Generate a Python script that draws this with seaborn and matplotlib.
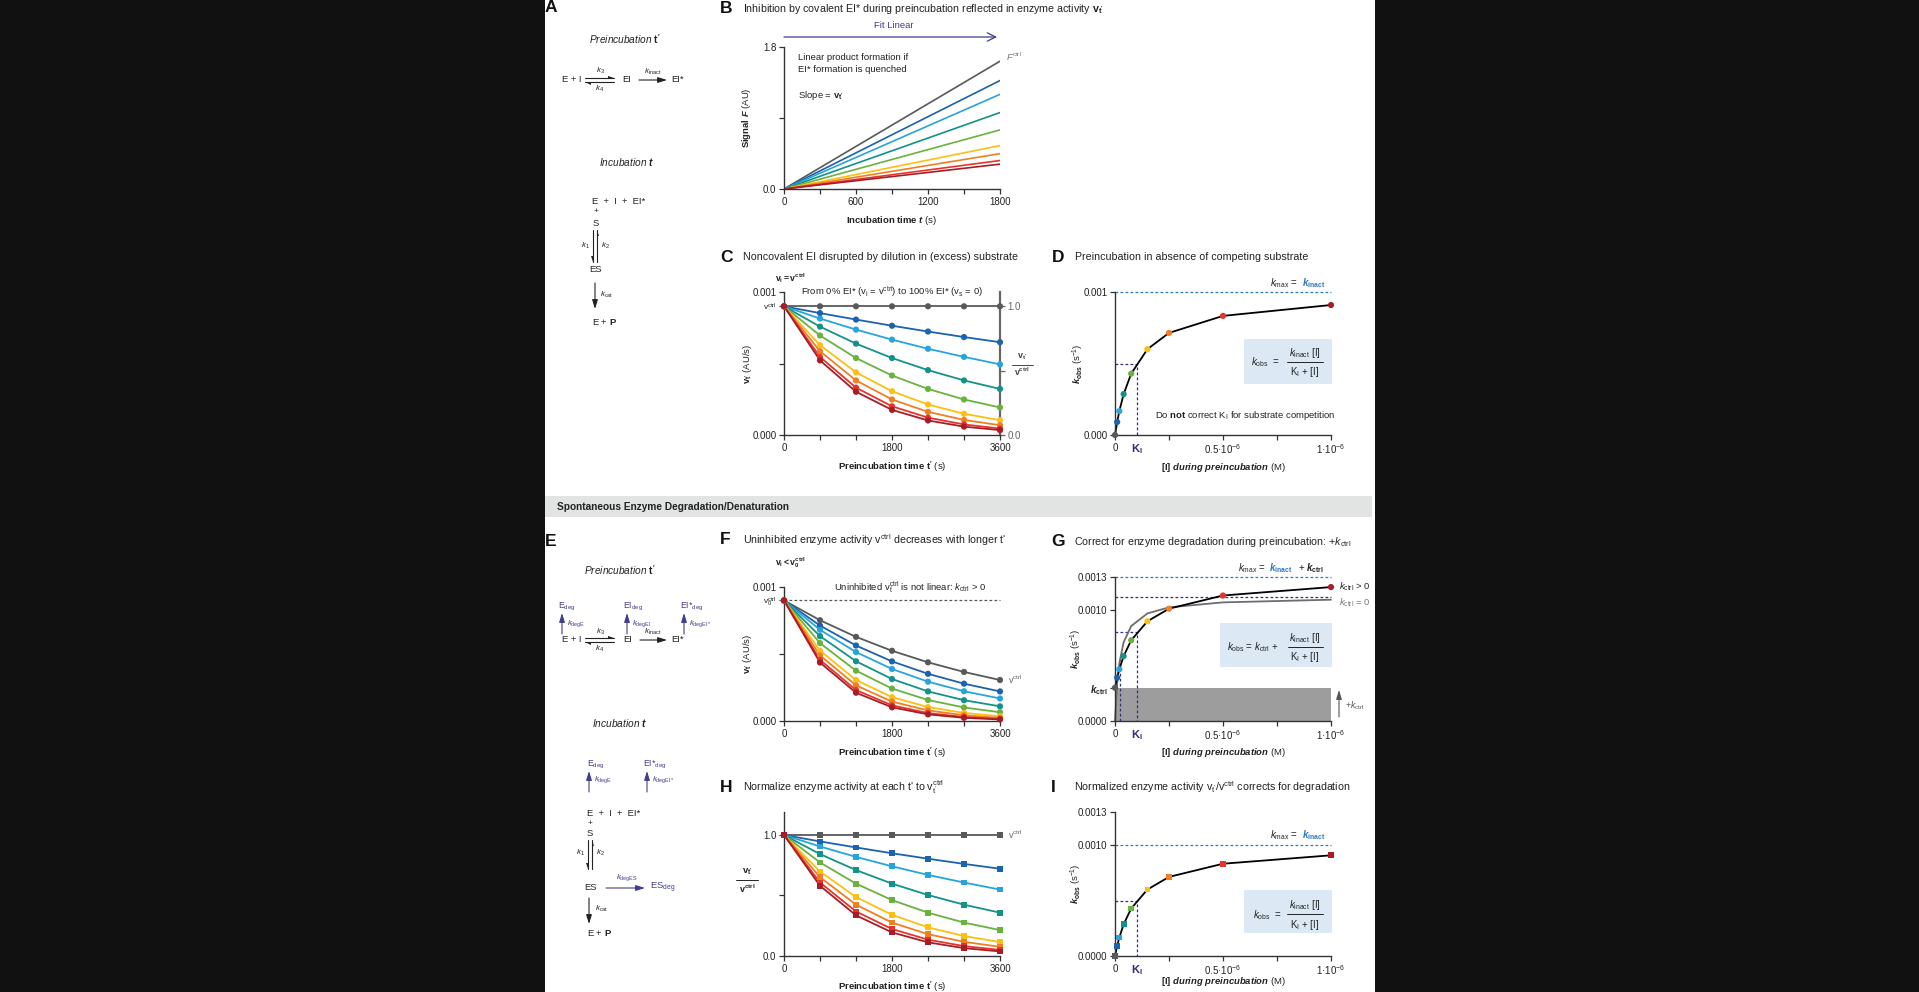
import numpy as np
import pandas as pd
import seaborn as sns
import matplotlib.pyplot as plt
from matplotlib.patches import Rectangle, Polygon
from matplotlib.ticker import FixedLocator

# inhibitor series: [I] during preincubation and colour of each series
series = ['0', '0.01', '0.02', '0.04', '0.075', '0.15', '0.25', '0.5', '1']
conc_M = [0, 0.01e-6, 0.02e-6, 0.04e-6, 0.075e-6, 0.15e-6, 0.25e-6, 0.5e-6, 1.0e-6]
colors = ['#58595b', '#1c62ae', '#27a4de', '#129289', '#6ab23f',
          '#fcc012', '#f07f24', '#e5352b', '#a81c27']

# preincubation time points (s)
t_pre = [0, 600, 1200, 1800, 2400, 3000, 3600]

# normalised activity v_t'/v_ctrl (panels C and H), one row per series
norm_act = [
    [1, 1, 1, 1, 1, 1, 1],
    [1, 0.947, 0.897, 0.849, 0.804, 0.761, 0.721],
    [1, 0.905, 0.819, 0.741, 0.670, 0.607, 0.549],
    [1, 0.842, 0.710, 0.598, 0.504, 0.424, 0.358],
    [1, 0.773, 0.598, 0.462, 0.358, 0.276, 0.214],
    [1, 0.698, 0.487, 0.340, 0.237, 0.165, 0.115],
    [1, 0.651, 0.424, 0.276, 0.180, 0.117, 0.076],
    [1, 0.607, 0.368, 0.223, 0.135, 0.082, 0.050],
    [1, 0.580, 0.336, 0.195, 0.113, 0.065, 0.038],
]
v_ctrl = 0.0009
# uninhibited activity with spontaneous degradation (panel F, grey)
v_ctrl_deg = [0.0009, 0.000752, 0.000628, 0.000524, 0.000438, 0.000366, 0.000306]

# panel B: product signal after 1800 s incubation
t_inc = [0, 1800]
signal_end = [1.62, 1.375, 1.200, 0.969, 0.749, 0.550, 0.448, 0.361, 0.315]

# k_obs values (panels D, G, I)
k_obs = [0, 0.0000909, 0.000167, 0.000286, 0.000429, 0.000600, 0.000714, 0.000833, 0.000909]
k_obs_deg = [0.0003, 0.000391, 0.000467, 0.000586, 0.000729, 0.000900, 0.001014, 0.001133, 0.001209]
k_obs_nocorr = [0, 0.000339, 0.000521, 0.000711, 0.000857, 0.000971, 0.001026, 0.001071, 0.001095]
k_inact = 0.001
k_ctrl = 0.0003
K_I = 0.1e-6
k_max_deg = 0.0013
k_max_nocorr = 0.00112
K_nocorr = 0.023e-6

sns.set_theme(style='ticks')
plt.rcParams['font.family'] = ['Liberation Sans', 'DejaVu Sans']
plt.rcParams.update({
    'mathtext.fontset': 'custom',
    'mathtext.rm': 'Liberation Sans',
    'mathtext.it': 'Liberation Sans:italic',
    'mathtext.bf': 'Liberation Sans:bold',
    'mathtext.bfit': 'Liberation Sans:italic:bold',
    'text.color': '#222222',
})

INK = '#222222'
GREY = '#58595b'
PURPLE = '#413d8f'
NAVY = '#2f2f80'
BLUE = '#2a78c0'
BOX = '#dce9f5'

W, H = 1919, 992
fig = plt.figure(figsize=(W / 100, H / 100), dpi=100, facecolor='#111111')
fig.add_artist(Rectangle((545 / W, 0), 830 / W, 1, transform=fig.transFigure,
                         facecolor='white', edgecolor='none', zorder=-5))

pal = dict(zip(series, colors))

rows = []
for s, ratios in zip(series, norm_act):
    for t, r, vd in zip(t_pre, ratios, v_ctrl_deg):
        rows.append(dict(series=s, t=t, ratio=r, vC=v_ctrl * r, vF=vd * r))
df_t = pd.DataFrame(rows)

df_b = pd.DataFrame([dict(series=s, t=t, F=f * t / t_inc[-1])
                     for s, f in zip(series, signal_end) for t in t_inc])

df_k = pd.DataFrame(dict(series=series, conc=conc_M, k=k_obs,
                         k_deg=k_obs_deg, k_nc=k_obs_nocorr))


def panel(x0, y0, x1, y1):
    ax = fig.add_axes([x0 / W, 1 - y1 / H, (x1 - x0) / W, (y1 - y0) / H], zorder=2)
    ax.patch.set_alpha(0)
    sns.despine(ax=ax)
    for sp in ['left', 'bottom']:
        ax.spines[sp].set_linewidth(1.0)
        ax.spines[sp].set_color('#333333')
    ax.tick_params(which='both', direction='out', length=3.5, width=0.9,
                   color='#333333', labelsize=7, labelcolor=INK, pad=2)
    return ax


def labels(ax, xl, yl, xy=-0.2, yx=-0.17):
    ax.set_xlabel(xl, fontsize=6.8, color=INK)
    ax.set_ylabel(yl, fontsize=6.8, color=INK)
    ax.xaxis.label.set_va('center')
    ax.yaxis.label.set_va('center')
    ax.xaxis.set_label_coords(0.5, xy)
    ax.yaxis.set_label_coords(yx, 0.5)


def unclip(ax):
    for art in ax.lines + ax.collections:
        art.set_clip_on(False)


def time_panel(ax, ycol, marker):
    sns.lineplot(df_t, x='t', y=ycol, hue='series', palette=pal, hue_order=series,
                 lw=1.3, legend=False, ax=ax)
    sns.scatterplot(df_t, x='t', y=ycol, hue='series', palette=pal, hue_order=series,
                    s=20 if marker == 'o' else 17, marker=marker, edgecolor='none',
                    legend=False, ax=ax, zorder=3)
    unclip(ax)
    ax.set_xlim(0, 3600)
    ax.set_xticks([0, 1800, 3600], ['0', '1800', '3600'])
    ax.xaxis.set_minor_locator(FixedLocator([600, 1200, 2400, 3000]))


def conc_axis(ax):
    ax.set_xlim(0, 1e-6)
    ax.set_xticks([0, K_I, 0.5e-6, 1e-6],
                  ['0', r'$\mathbf{K_I}$', r'0.5·10$^{-6}$', r'1·10$^{-6}$'])
    ax.xaxis.get_major_ticks()[1].tick1line.set_visible(False)
    lab = ax.get_xticklabels()[1]
    lab.set_color(NAVY)
    lab.set_fontsize(8)
    ax.xaxis.set_minor_locator(FixedLocator([0.25e-6, 0.75e-6]))


def dashed(ax, xs, ys, color):
    ax.plot(xs, ys, ls=(0, (2.2, 1.8)), lw=0.9, color=color, zorder=1)


# ---------------- panel B ----------------
axB = panel(784, 47, 1000, 189)
sns.lineplot(df_b, x='t', y='F', hue='series', palette=pal, hue_order=series,
             lw=1.2, legend=False, ax=axB)
axB.set_xlim(0, 1800)
axB.set_ylim(0, 1.8)
axB.set_xticks([0, 600, 1200, 1800], ['0', '600', '1200', '1800'])
axB.xaxis.set_minor_locator(FixedLocator([300, 900, 1500]))
axB.set_yticks([0, 1.8], ['0.0', '1.8'])
axB.yaxis.set_minor_locator(FixedLocator([0.9]))
labels(axB, r'$\mathbf{Incubation\ time}$ $\mathbfit{t}$ (s)',
       r'$\mathbf{Signal}$ $\mathbfit{F}$ (AU)', xy=-0.225, yx=-0.175)
axB.annotate(r'$F^{\rm ctrl}$', (1800, signal_end[0]), xytext=(4, 3),
             textcoords='offset points', fontsize=6.5, color='#777777',
             va='center', annotation_clip=False)

# ---------------- panel C ----------------
axC = panel(784, 292, 1000, 435)
time_panel(axC, 'vC', 'o')
axC.set_ylim(0, 0.001)
axC.set_yticks([0, v_ctrl, 0.001], ['0.000', r'v$^{\rm ctrl}$', '0.001'])
axC.get_yticklabels()[1].set_fontsize(6)
axC.yaxis.set_minor_locator(FixedLocator([0.0005]))
labels(axC, r"$\mathbf{Preincubation\ time\ t'}$ (s)", r"$\mathbf{v_{t'}}$ (AU/s)",
       xy=-0.225, yx=-0.17)
axR = axC.twinx()
axR.set_zorder(1)
axR.set_ylim(0, 0.001 / v_ctrl)
for sp in ['top', 'left', 'bottom']:
    axR.spines[sp].set_visible(False)
axR.spines['right'].set_color('#666666')
axR.spines['right'].set_linewidth(1.6)
axR.set_yticks([0, 1], ['0.0', '1.0'])
axR.yaxis.set_minor_locator(FixedLocator([0.5]))
axR.tick_params(which='both', direction='out', length=3.5, width=0.9, color='#666666',
                labelsize=7, labelcolor='#666666', pad=2)

# ---------------- panel D ----------------
axD = panel(1115, 292, 1331, 435)
dashed(axD, [0, 1e-6], [k_inact, k_inact], BLUE)
dashed(axD, [0, K_I, K_I], [k_inact / 2, k_inact / 2, 0], NAVY)
sns.lineplot(df_k, x='conc', y='k', color='black', lw=1.3, ax=axD)
sns.scatterplot(df_k, x='conc', y='k', hue='series', palette=pal, hue_order=series,
                s=20, edgecolor='none', legend=False, ax=axD, zorder=3)
unclip(axD)
conc_axis(axD)
axD.set_ylim(0, 0.001)
axD.set_yticks([0, 0.001], ['0.000', '0.001'])
labels(axD, r'$\mathbf{[I]}$ $\mathbfit{during\ preincubation}$ (M)',
       r'$\mathbfit{k}_{\mathbf{obs}}$ (s$^{-1}$)', xy=-0.225, yx=-0.17)

# ---------------- panel F ----------------
axF = panel(784, 587, 1000, 721)
dashed(axF, [0, 3600], [v_ctrl, v_ctrl], '#555555')
time_panel(axF, 'vF', 'o')
axF.set_ylim(0, 0.001)
axF.set_yticks([0, v_ctrl, 0.001], ['0.000', r'v$_0^{\rm ctrl}$', '0.001'])
axF.get_yticklabels()[1].set_fontsize(6)
axF.yaxis.set_minor_locator(FixedLocator([0.0005]))
labels(axF, r"$\mathbf{Preincubation\ time\ t'}$ (s)", r"$\mathbf{v_{t'}}$ (AU/s)",
       xy=-0.24, yx=-0.17)
axF.annotate(r'v$^{\rm ctrl}$', (3600, v_ctrl_deg[-1]), xytext=(6, 0),
             textcoords='offset points', fontsize=6.5, color='#666666',
             va='center', annotation_clip=False)

# ---------------- panel G ----------------
axG = panel(1115, 577, 1331, 721)
axG.add_patch(Rectangle((0, 0), 1e-6, k_ctrl, facecolor='#9d9d9d', edgecolor='none', zorder=0))
dashed(axG, [0, 1e-6], [k_max_deg, k_max_deg], BLUE)
dashed(axG, [0, 1e-6], [k_max_nocorr, k_max_nocorr], NAVY)
dashed(axG, [0, K_I, K_I], [k_ctrl + k_inact / 2, k_ctrl + k_inact / 2, 0], NAVY)
dashed(axG, [K_nocorr, K_nocorr], [0, k_max_nocorr / 2], NAVY)
sns.lineplot(df_k, x='conc', y='k_nc', color='#6d6d6d', lw=1.3, ax=axG)
sns.lineplot(df_k, x='conc', y='k_deg', color='black', lw=1.3, ax=axG)
sns.scatterplot(df_k, x='conc', y='k_deg', hue='series', palette=pal, hue_order=series,
                s=20, edgecolor='none', legend=False, ax=axG, zorder=3)
unclip(axG)
conc_axis(axG)
axG.set_ylim(0, k_max_deg)
axG.set_yticks([0, k_ctrl, 0.001, k_max_deg],
               ['0.0000', r'$\mathbfit{k}_{\mathbf{ctrl}}$', '0.0010', '0.0013'])
labels(axG, r'$\mathbf{[I]}$ $\mathbfit{during\ preincubation}$ (M)',
       r'$\mathbfit{k}_{\mathbf{obs}}$ (s$^{-1}$)', xy=-0.22, yx=-0.18)
axG.annotate(r'$k_{\rm ctrl}$ > 0', (1e-6, k_obs_deg[-1]), xytext=(6, 0),
             textcoords='offset points', fontsize=6.8, color=INK, va='center',
             annotation_clip=False)
axG.annotate(r'$k_{\rm ctrl}$ = 0', (1e-6, k_obs_nocorr[-1]), xytext=(6, -2),
             textcoords='offset points', fontsize=6.8, color='#777777', va='center',
             annotation_clip=False)

# ---------------- panel H ----------------
axH = panel(784, 812, 1000, 956)
time_panel(axH, 'ratio', 's')
axH.set_ylim(0, 1.19)
axH.set_yticks([0, 1], ['0.0', '1.0'])
axH.yaxis.set_minor_locator(FixedLocator([0.5]))
labels(axH, r"$\mathbf{Preincubation\ time\ t'}$ (s)", '', xy=-0.215, yx=-0.17)
axH.annotate(r'v$^{\rm ctrl}$', (3600, 1), xytext=(6, 0), textcoords='offset points',
             fontsize=6.5, color='#666666', va='center', annotation_clip=False)

# ---------------- panel I ----------------
axI = panel(1115, 812, 1331, 956)
dashed(axI, [0, 1e-6], [k_inact, k_inact], BLUE)
dashed(axI, [0, K_I, K_I], [k_inact / 2, k_inact / 2, 0], NAVY)
sns.lineplot(df_k, x='conc', y='k', color='black', lw=1.3, ax=axI)
sns.scatterplot(df_k, x='conc', y='k', hue='series', palette=pal, hue_order=series,
                s=17, marker='s', edgecolor='none', legend=False, ax=axI, zorder=3)
unclip(axI)
conc_axis(axI)
axI.set_ylim(0, k_max_deg)
axI.set_yticks([0, 0.001, k_max_deg], ['0.0000', '0.0010', '0.0013'])
labels(axI, r'$\mathbf{[I]}$ $\mathbfit{during\ preincubation}$ (M)',
       r'$\mathbfit{k}_{\mathbf{obs}}$ (s$^{-1}$)', xy=-0.18, yx=-0.18)

# ---------------- overlay: text, schemes, annotations ----------------
ov = fig.add_axes([0, 0, 1, 1], zorder=10)
ov.set_xlim(0, W)
ov.set_ylim(H, 0)
ov.axis('off')
ov.patch.set_alpha(0)


def T(x, y, s, size=7, ha='left', **kw):
    ov.text(x, y, s, fontsize=size, ha=ha, va='center', **kw)


def arrow(x0, y0, x1, y1, color=INK, lw=0.8):
    ov.annotate('', xy=(x1, y1), xytext=(x0, y0),
                arrowprops=dict(arrowstyle='-|>,head_length=0.45,head_width=0.14',
                                lw=lw, color=color, shrinkA=0, shrinkB=0))


def eq_arrow(x0, x1, y, color=INK):
    ov.plot([x0, x1], [y - 1.8, y - 1.8], color=color, lw=0.8)
    ov.add_patch(Polygon([(x1, y - 1.8), (x1 - 6, y - 1.8), (x1 - 6, y - 4.5)],
                         closed=True, facecolor=color, edgecolor='none'))
    ov.plot([x0, x1], [y + 1.8, y + 1.8], color=color, lw=0.8)
    ov.add_patch(Polygon([(x0, y + 1.8), (x0 + 6, y + 1.8), (x0 + 6, y + 4.5)],
                         closed=True, facecolor=color, edgecolor='none'))


def vert_eq(x, y0, y1, color=INK):
    ov.plot([x - 1.6, x - 1.6], [y0, y1], color=color, lw=0.8)
    ov.add_patch(Polygon([(x - 1.6, y1), (x - 1.6, y1 - 6), (x - 4.2, y1 - 6)],
                         closed=True, facecolor=color, edgecolor='none'))
    ov.plot([x + 1.6, x + 1.6], [y0, y1], color=color, lw=0.8)
    ov.add_patch(Polygon([(x + 1.6, y0), (x + 1.6, y0 + 6), (x + 4.2, y0 + 6)],
                         closed=True, facecolor=color, edgecolor='none'))


def letter(x, y, s):
    T(x, y, s, size=12.5, weight='bold', color='#111111')


# panel letters and titles
TS = 7.7
letter(545, 8, 'A')
letter(720, 8.5, 'B')
T(743, 8.5, r"Inhibition by covalent EI* during preincubation reflected in enzyme activity $\mathbf{v_{t'}}$", TS)
letter(720, 257, 'C')
T(743, 257, 'Noncovalent EI disrupted by dilution in (excess) substrate', TS)
letter(1052, 257, 'D')
T(1075, 257, 'Preincubation in absence of competing substrate', TS)
letter(545, 541, 'E')
letter(720, 540, 'F')
T(743, 540, r"Uninhibited enzyme activity v$^{\rm ctrl}$ decreases with longer t'", TS)
letter(1051, 542, 'G')
T(1074, 542, r'Correct for enzyme degradation during preincubation: +$k_{\rm ctrl}$', TS)
letter(720, 787, 'H')
T(743, 787, r"Normalize enzyme activity at each t' to v$_{\rm t'}^{\rm ctrl}$", TS)
letter(1051, 787, 'I')
T(1074, 787, r"Normalized enzyme activity v$_{\rm t'}$/v$^{\rm ctrl}$ corrects for degradation", TS)

# section band
ov.add_patch(Rectangle((545, 496), 827, 21, facecolor='#e2e3e3', edgecolor='none'))
T(557, 506.5, 'Spontaneous Enzyme Degradation/Denaturation', 7.3, weight='bold')

# panel B annotations
T(894, 26, 'Fit Linear', 6.8, ha='center', color=PURPLE)
ov.annotate('', xy=(997, 37), xytext=(784, 37),
            arrowprops=dict(arrowstyle='->,head_length=0.5,head_width=0.25', lw=0.9,
                            color=PURPLE, shrinkA=0, shrinkB=0))
T(798, 57, 'Linear product formation if', 6.8)
T(798, 69, 'EI* formation is quenched', 6.8)
T(798, 95, r"Slope = $\mathbf{v_{t'}}$", 6.8)

# panel C annotations
T(775, 278, r'$\mathbf{v_i = v^{ctrl}}$', 6.3)
T(892, 292, r'From 0% EI* (v$_{\rm i}$ = v$^{\rm ctrl}$) to 100% EI* (v$_{\rm s}$ = 0)', 6.8, ha='center')
T(1022, 357, r"$\mathbf{v_{t'}}$", 6.5, ha='center', color='#444444')
ov.plot([1012, 1033], [364.5, 364.5], color='#444444', lw=0.7)
T(1022, 372, r'$\mathbf{v^{ctrl}}$', 6.3, ha='center', color='#444444')

# formula boxes
def formula_box(bx0, by0, bx1, by1, px, py, prefix, ncx, lx0, lx1, ly):
    ov.add_patch(Rectangle((bx0, by0), bx1 - bx0, by1 - by0, facecolor=BOX, edgecolor='none', zorder=0))
    T(px, py, prefix, 7)
    T(ncx, ly - 8.5, r'$k_{\rm inact}$ [I]', 7, ha='center')
    ov.plot([lx0, lx1], [ly, ly], color=INK, lw=0.7)
    T(ncx, ly + 10.5, r'K$_{\rm I}$ + [I]', 7, ha='center')


formula_box(1244, 339, 1332, 384, 1251, 362, r'$k_{\rm obs}$  =', 1305, 1287, 1323, 361.5)
formula_box(1220, 623, 1332, 667, 1227, 647, r'$k_{\rm obs}$ = $k_{\rm ctrl}$ +', 1305, 1288, 1323, 646.5)
formula_box(1244, 890, 1332, 933, 1253, 915, r'$k_{\rm obs}$  =', 1305, 1287, 1323, 914)

# k_max texts
T(1270, 283, r'$k_{\rm max}$ =', 7)
T(1302, 283, r'$\mathbfit{k}_{\mathbf{inact}}$', 7, color=BLUE)
T(1238, 568, r'$k_{\rm max}$ =', 7)
T(1269, 568, r'$\mathbfit{k}_{\mathbf{inact}}$', 7, color=BLUE)
T(1298, 568, r'+ $\mathbfit{k}_{\mathbf{ctrl}}$', 7)
T(1270, 835, r'$k_{\rm max}$ =', 7)
T(1302, 835, r'$\mathbfit{k}_{\mathbf{inact}}$', 7, color=BLUE)
T(1245, 415, r'Do $\mathbf{not}$ correct K$_{\rm I}$ for substrate competition', 6.8, ha='center')

# panel F annotations
T(775, 563, r'$\mathbf{v_i < v_0^{ctrl}}$', 6.3)
T(910, 587, r"Uninhibited v$_{\rm t'}^{\rm ctrl}$ is not linear: $k_{\rm ctrl}$ > 0", 6.8, ha='center')

# panel G +k_ctrl arrow
arrow(1339, 717, 1339, 690, color='#555555', lw=0.8)
T(1345, 706, r'+$k_{\rm ctrl}$', 6.3, color='#555555')

# panel H y label (fraction)
T(747, 872, r"$\mathbf{v_{t'}}$", 6.8, ha='center')
ov.plot([736, 758], [880, 880], color=INK, lw=0.7)
T(747, 889, r'$\mathbf{v^{ctrl}}$', 6.5, ha='center')

# ---------- scheme A ----------
S = 6.8
T(625, 39, r"Preincubation $\mathbf{t'}$", 7.3, ha='center', style='italic')
T(581, 80, 'E + I', S, ha='right')
eq_arrow(585, 614, 80)
T(600, 71, r'$k_3$', 5.8, ha='center')
T(600, 89, r'$k_4$', 5.8, ha='center')
T(627, 80, 'EI', S, ha='center')
arrow(639, 80, 667, 80)
T(653, 72, r'$k_{\rm inact}$', 5.8, ha='center')
T(671, 80, 'EI*', S)

T(627, 162, r'Incubation $\mathbfit{t}$', 7.3, ha='center', style='italic')
T(592, 201, 'E  +  I  +  EI*', S)
T(596, 212, '+', 6, ha='center')
T(596, 224, 'S', S, ha='center')
vert_eq(595, 230, 262)
T(590, 246, r'$k_1$', 5.8, ha='right')
T(601, 246, r'$k_2$', 5.8)
T(596, 270, 'ES', S, ha='center')
arrow(595, 283, 595, 309)
T(600, 295, r'$k_{\rm cat}$', 5.8)
T(592, 322, r'E + $\mathbf{P}$', S)

# ---------- scheme E ----------
T(620, 570, r"Preincubation $\mathbf{t'}$", 7.3, ha='center', style='italic')
for xl, xa, name, kname in [(558, 562, r'E$_{\rm deg}$', r'$k_{\rm degE}$'),
                            (623, 627, r'EI$_{\rm deg}$', r'$k_{\rm degEI}$'),
                            (680, 684, r'EI*$_{\rm deg}$', r'$k_{\rm degEI*}$')]:
    T(xl, 607, name, 6.3, color=PURPLE)
    arrow(xa, 634, xa, 613, color=PURPLE)
    T(xa + 5, 624, kname, 5.6, color=PURPLE)
T(581, 640, 'E + I', S, ha='right')
eq_arrow(585, 614, 640)
T(600, 632, r'$k_3$', 5.8, ha='center')
T(600, 649, r'$k_4$', 5.8, ha='center')
T(628, 640, 'EI', S, ha='center')
arrow(640, 640, 667, 640)
T(653, 632, r'$k_{\rm inact}$', 5.8, ha='center')
T(671, 640, 'EI*', S)

T(620, 723, r'Incubation $\mathbfit{t}$', 7.3, ha='center', style='italic')
for xl, xa, name, kname in [(587, 589, r'E$_{\rm deg}$', r'$k_{\rm degE}$'),
                            (643, 647, r'EI*$_{\rm deg}$', r'$k_{\rm degEI*}$')]:
    T(xl, 765, name, 6.3, color=PURPLE)
    arrow(xa, 792, xa, 771, color=PURPLE)
    T(xa + 5, 780, kname, 5.6, color=PURPLE)
T(587, 813, 'E  +  I  +  EI*', S)
T(590, 823, '+', 6, ha='center')
T(590, 834, 'S', S, ha='center')
vert_eq(590, 840, 869)
T(585, 853, r'$k_1$', 5.8, ha='right')
T(596, 853, r'$k_2$', 5.8)
T(591, 888, 'ES', S, ha='center')
arrow(606, 888, 645, 888, color=PURPLE)
T(627, 878, r'$k_{\rm degES}$', 5.6, ha='center', color=PURPLE)
T(650, 888, r'ES$_{\rm deg}$', S, color=PURPLE)
arrow(589, 898, 589, 924)
T(595, 909, r'$k_{\rm cat}$', 5.8)
T(587, 933, r'E + $\mathbf{P}$', S)

fig.savefig('out.png', dpi=100, facecolor=fig.get_facecolor())
